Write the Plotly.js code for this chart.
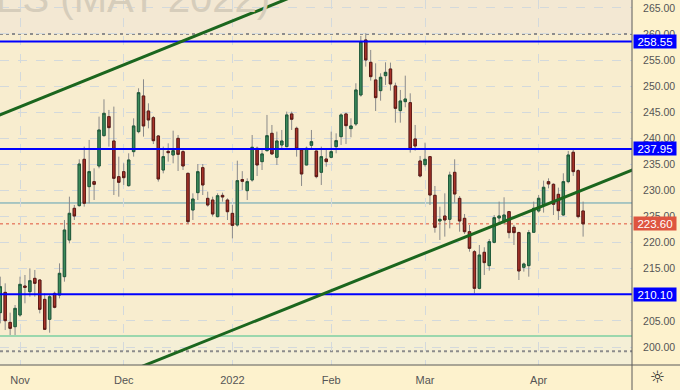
<!DOCTYPE html>
<html>
<head>
<meta charset="utf-8">
<script src="https://cdn.plot.ly/plotly-3.0.1.min.js"></script>
<style>html,body{margin:0;padding:0;background:#fdf2cd;}#chart{width:680px;height:390px;}</style>
</head>
<body>
<div id="chart"></div>
<script>
// Trading days (category labels) by month
const tradingDays = [
  ['2021-10', [26,27,28,29]],
  ['2021-11', [1,2,3,4,5,8,9,10,11,12,15,16,17,18,19,22,23,24,26,29,30]],
  ['2021-12', [1,2,3,6,7,8,9,10,13,14,15,16,17,20,21,22,23,27,28,29,30,31]],
  ['2022-01', [3,4,5,6,7,10,11,12,13,14,18,19,20,21,24,25,26,27,28,31]],
  ['2022-02', [1,2,3,4,7,8,9,10,11,14,15,16,17,18,22,23,24,25,28]],
  ['2022-03', [1,2,3,4,7,8,9,10,11,14,15,16,17,18,21,22,23,24,25,28,29,30,31]],
  ['2022-04', [1,4,5,6,7,8,11,12,13,14]]
];
const dates = [];
tradingDays.forEach(([m, ds]) => ds.forEach(d => dates.push(m + '-' + String(d).padStart(2, '0'))));

const opens = [206.58,210.47,204.72,203.89,
  206.13,211.69,210.6,213.16,212.84,209.13,205.3,210.28,209.96,213.48,220.51,226.58,227.09,235.97,230.73,231.69,234.69,240.51,244.15,239.48,232.65,
  233.6,230.92,237.44,241.27,248.11,245.23,243.95,240.44,233.92,237.5,236.8,239.99,237.44,233.28,226.25,229.58,234.37,228.49,228.17,224.98,229.06,228.17,
  225.61,223.38,232.1,229.96,232.01,238.08,235.52,237.63,240.95,236.35,238.72,238.4,244.66,241.91,237.76,234.88,238.65,237.56,233.48,236.03,
  236.35,238.4,240.31,244.66,241.85,242.74,248.3,258.84,254.56,251.18,249.13,252.0,253.28,250.03,245.3,247.02,246.83,239.87,235.65,
  234.95,236.48,229.07,224.15,225.1,224.47,233.48,228.49,224.66,222.1,218.27,211.24,218.15,215.59,220.06,224.73,224.03,225.94,222.94,221.92,215.27,215.59,221.98,
  226.07,227.22,231.69,231.18,229.26,225.3,231.69,237.32,233.8,226.07];
const highs = [213.48,212.2,206.58,208.05,
  213.48,213.8,215.07,214.76,212.97,210.28,209.96,210.6,216.03,224.34,228.81,227.22,235.97,238.4,239.68,234.24,244.15,247.47,245.43,246.07,236.48,
  235.2,237.12,243.82,249.58,251.3,246.7,244.27,240.63,238.4,239.03,241.46,240.63,238.07,233.41,229.45,235.07,235.07,229.77,228.81,229.45,229.58,228.49,
  227.21,235.71,233.7,232.33,240.63,238.4,237.76,244.47,242.55,241.27,241.59,245.11,245.11,242.23,237.95,238.4,241.59,237.63,238.4,238.08,
  241.27,240.95,244.79,244.91,243.83,250.54,259.61,260.12,256.93,254.37,252.45,254.56,254.5,250.66,249.26,252.0,248.62,242.55,236.61,
  239.16,236.61,230.86,226.89,229.45,233.6,235.97,228.94,225.49,223.38,218.59,219.55,219.11,220.7,225.3,227.86,228.69,226.07,223.39,222.11,216.17,222.43,227.86,
  229.14,231.88,232.33,231.37,230.54,233.29,237.57,237.89,234.06,227.86];
const lows = [204.53,203.25,202.3,202.3,
  205.81,208.37,209.64,209.64,206.45,203.25,202.74,207.41,209.32,212.52,219.87,224.34,226.9,226.9,227.54,228.17,234.24,240.31,238.4,229.13,228.81,
  231.05,230.73,236.48,240.95,240.31,241.91,238.9,231.69,233.28,235.52,235.2,233.73,233.92,223.57,224.34,228.17,229.13,226.89,224.98,224.85,227.85,224.34,
  220.82,223.06,230.09,228.17,231.69,232.77,233.92,237.44,236.8,234.88,238.08,238.27,241.59,236.48,230.86,234.88,237.76,232.33,231.05,234.56,
  236.16,237.12,238.72,238.91,240.19,242.36,247.98,253.73,251.05,245.23,247.21,250.22,249.13,242.99,242.99,245.94,237.25,237.63,232.52,
  234.56,227.21,221.91,220.51,221.15,222.74,227.66,222.1,221.66,218.27,210.28,211.05,213.8,214.63,219.87,223.71,223.51,220.83,219.55,212.84,214.44,213.48,221.92,
  225.75,225.75,230.41,225.3,224.34,225.17,231.37,232.78,224.66,221.15];
const closes = [211.56,205.04,203.57,207.41,
  212.01,211.43,212.71,212.2,207.22,203.38,209.64,207.6,214.12,222.42,225.62,225.11,235.07,227.54,233.61,231.18,241.59,244.79,242.04,232.33,231.56,
  232.45,235.84,242.36,248.74,242.36,243.51,239.54,232.2,236.48,237.24,237.63,236.92,234.69,224.02,228.36,233.6,231.05,227.21,225.49,229.0,228.75,225.93,
  223.31,231.88,231.75,231.69,238.27,234.88,237.0,240.5,237.0,239.48,239.48,244.47,243.64,237.95,233.16,238.08,239.35,232.65,236.48,235.52,
  237.44,239.55,244.47,242.42,242.36,249.26,258.52,255.01,251.81,247.79,251.69,252.64,250.41,245.74,247.15,247.53,237.95,238.52,232.77,
  235.97,229.13,222.93,224.47,224.34,232.96,229.32,224.15,222.1,218.91,211.24,217.63,216.17,220.19,224.79,225.11,225.3,221.92,221.92,214.57,215.91,221.92,226.58,
  228.5,230.61,231.25,227.35,226.13,231.69,236.8,233.61,224.98,223.6];

const monthTickDates = ['2021-11-01','2021-12-01','2022-01-03','2022-02-01','2022-03-01','2022-04-01'];
const monthTickText = ['Nov','Dec','2022','Feb','Mar','Apr'];
const levelPrices = [258.55, 237.95, 210.10];
const dottedLevels = [260.0, 199.2];
const tealLevel = 227.6;
const greenLevel = 202.1;
const lastPrice = closes[closes.length - 1];
// trend channel: [category position, price] endpoints
const trendUpper = [[-6, 242.2], [74, 272.8]];
const trendLower = [[24, 194.5], [134, 236.2]];
const watermark = 'COFFEE FUTURES (MAY 2022)';

const bodyHigh = opens.map((o, i) => Math.max(o, closes[i]));
const bodyLow = opens.map((o, i) => Math.min(o, closes[i]));

const wickColor = '#8a8a8a';
const traces = [
  {
    type: 'candlestick', x: dates, open: opens, high: highs, low: lows, close: closes,
    increasing: {line: {color: wickColor, width: 1}, fillcolor: wickColor},
    decreasing: {line: {color: wickColor, width: 1}, fillcolor: wickColor},
    whiskerwidth: 0, hoverinfo: 'skip', showlegend: false
  },
  {
    type: 'candlestick', x: dates, open: opens, high: bodyHigh, low: bodyLow, close: closes,
    increasing: {line: {color: '#1f5a39', width: 1}, fillcolor: '#3b8a5b'},
    decreasing: {line: {color: '#5e1a14', width: 1}, fillcolor: '#a8332a'},
    whiskerwidth: 0, hoverinfo: 'skip', showlegend: false
  }
];

const shapes = [];
// background tints
shapes.push({type:'rect', xref:'paper', x0:0, x1:1, yref:'y', y0:dottedLevels[0], y1:300, fillcolor:'#f3e8d3', line:{width:0}, layer:'below'});
shapes.push({type:'rect', xref:'paper', x0:0, x1:1, yref:'y', y0:150, y1:greenLevel, fillcolor:'#f4efd6', line:{width:0}, layer:'below'});
dottedLevels.forEach(v => shapes.push({type:'line', xref:'paper', x0:0, x1:1, yref:'y', y0:v, y1:v, line:{color:'#8c8c8c', width:2, dash:'dot'}, layer:'between'}));
shapes.push({type:'line', xref:'paper', x0:0, x1:1, yref:'y', y0:tealLevel, y1:tealLevel, line:{color:'#5c9fb5', width:1}, layer:'between'});
shapes.push({type:'line', xref:'paper', x0:0, x1:1, yref:'y', y0:greenLevel, y1:greenLevel, line:{color:'#7ccfa0', width:1.5}, layer:'between'});
shapes.push({type:'line', xref:'paper', x0:0, x1:1, yref:'y', y0:lastPrice, y1:lastPrice, line:{color:'#e0533c', width:1, dash:'dot'}, layer:'between'});
levelPrices.forEach(v => shapes.push({type:'line', xref:'paper', x0:0, x1:1, yref:'y', y0:v, y1:v, line:{color:'#0000ff', width:2}, layer:'above'}));
[trendUpper, trendLower].forEach(t => shapes.push({type:'line', xref:'x', yref:'y', x0:t[0][0], y0:t[0][1], x1:t[1][0], y1:t[1][1], line:{color:'#1b661e', width:3}, layer:'above'}));
// panel separators
const W = 632, H = 365;
shapes.push({type:'line', xref:'paper', yref:'paper', x0:1, x1:1, y0:1, y1:-25/H, line:{color:'#5a5a5a', width:1}, layer:'above'});
shapes.push({type:'line', xref:'paper', yref:'paper', x0:0, x1:680/W, y0:0, y1:0, line:{color:'#5a5a5a', width:1}, layer:'above'});

const annotations = [];
annotations.push({xref:'paper', yref:'paper', x:272/W, y:1 - 22.5/H, xanchor:'right', yanchor:'bottom', text:watermark, showarrow:false, font:{family:'Liberation Sans, Arial, sans-serif', size:40, color:'#d6cdbb'}});
levelPrices.forEach(v => annotations.push({xref:'paper', yref:'y', x:1, xshift:1, y:v, xanchor:'left', yanchor:'middle', text:v.toFixed(2), showarrow:false, bgcolor:'#0000ff', width:42, height:13, borderpad:0, font:{family:'Liberation Sans, Arial, sans-serif', size:11.5, color:'#ffffff'}}));
annotations.push({xref:'paper', yref:'y', x:1, xshift:1, y:lastPrice, xanchor:'left', yanchor:'middle', text:lastPrice.toFixed(2), showarrow:false, bgcolor:'#de5540', width:42, height:13, borderpad:0, font:{family:'Liberation Sans, Arial, sans-serif', size:11.5, color:'#ffffff'}});
annotations.push({xref:'paper', yref:'paper', x:657/W, y:-12.5/H, xanchor:'center', yanchor:'middle', text:'☼', showarrow:false, font:{family:'DejaVu Sans', size:17, color:'#222'}});

const layout = {
  width: 680, height: 390,
  margin: {l:0, r:48, t:0, b:25, pad:0},
  paper_bgcolor: '#fdf2cd', plot_bgcolor: '#f8edcf',
  showlegend: false,
  font: {family:'Liberation Sans, Arial, sans-serif', size:11, color:'#555'},
  xaxis: {
    type:'category', categoryorder:'array', categoryarray: dates,
    range:[-0.05, 127.9], rangeslider:{visible:false},
    tickmode:'array', tickvals: monthTickDates, ticktext: monthTickText,
    showgrid:true, gridcolor:'#d3d9dc', griddash:'dash', gridwidth:1,
    ticks:'outside', ticklen:5, tickcolor:'rgba(0,0,0,0)',
    showline:false, zeroline:false, fixedrange:true,
    tickfont:{size:11, color:'#555'}
  },
  yaxis: {
    side:'right', range:[196.55, 266.5], tick0:0, dtick:5, tickformat:'.2f',
    showgrid:true, gridcolor:'#d3d9dc', griddash:'dash', gridwidth:1,
    ticks:'outside', ticklen:8, tickcolor:'rgba(0,0,0,0)',
    showline:false, zeroline:false, fixedrange:true,
    tickfont:{size:10.5, color:'#555'}
  },
  shapes: shapes, annotations: annotations
};
Plotly.newPlot('chart', traces, layout, {staticPlot:true, displayModeBar:false});
</script>
</body>
</html>
